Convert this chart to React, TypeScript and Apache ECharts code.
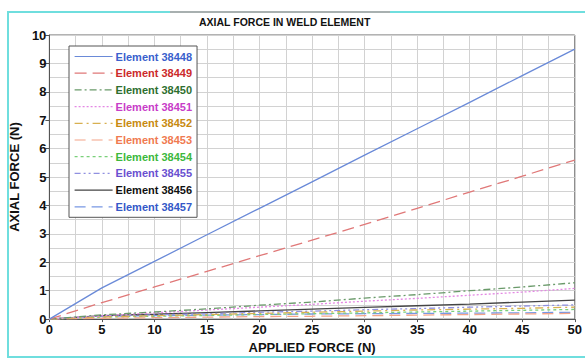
import React, { useEffect, useRef } from "react";
import * as echarts from "echarts";

const xValues = [0, 5, 10, 15, 20, 25, 30, 35, 40, 45, 50];
const seriesNames = [
  "Element 38448",
  "Element 38449",
  "Element 38450",
  "Element 38451",
  "Element 38452",
  "Element 38453",
  "Element 38454",
  "Element 38455",
  "Element 38456",
  "Element 38457",
];
const e38448 = [0, 1.1, 2.03, 2.97, 3.9, 4.83, 5.77, 6.7, 7.63, 8.57, 9.5];
const e38449 = [0, 0.58, 1.13, 1.68, 2.23, 2.78, 3.33, 3.9, 4.47, 5.03, 5.6];
const e38450 = [0, 0.15, 0.25, 0.36, 0.49, 0.6, 0.74, 0.86, 1.0, 1.13, 1.28];
const e38451 = [0, 0.12, 0.22, 0.32, 0.42, 0.52, 0.63, 0.73, 0.84, 0.95, 1.08];
const e38452 = [0, 0.08, 0.12, 0.16, 0.2, 0.24, 0.28, 0.32, 0.35, 0.38, 0.42];
const e38453 = [0, 0.03, 0.05, 0.07, 0.09, 0.1, 0.12, 0.14, 0.16, 0.18, 0.2];
const e38454 = [0, 0.07, 0.1, 0.13, 0.16, 0.19, 0.22, 0.25, 0.28, 0.31, 0.34];
const e38455 = [0, 0.1, 0.15, 0.19, 0.24, 0.28, 0.33, 0.37, 0.42, 0.46, 0.5];
const e38456 = [0, 0.12, 0.17, 0.23, 0.29, 0.35, 0.41, 0.47, 0.53, 0.6, 0.67];
const e38457 = [0, 0.1, 0.12, 0.14, 0.16, 0.18, 0.19, 0.2, 0.21, 0.22, 0.24];
const allValues = [e38448, e38449, e38450, e38451, e38452, e38453, e38454, e38455, e38456, e38457];

const lineColors = ["#6a8ad8", "#e07878", "#6a9a6a", "#e488e4", "#d8b050", "#f4a488", "#7ad07a", "#9090e0", "#444444", "#7898e4"];
const textColors = ["#3a5fcd", "#cc2a2a", "#2f6f2f", "#c83cc8", "#c88a10", "#f07a50", "#3cb83c", "#6a50d0", "#111111", "#3458c8"];
const dashes: any[] = [
  "solid",
  [12, 6],
  [7, 3, 2, 3],
  [2, 2],
  [8, 4, 2, 4],
  [11, 6],
  [3, 3],
  [6, 3, 2, 3, 2, 3],
  "solid",
  [11, 6],
];

export default function App() {
  const ref = useRef<HTMLDivElement>(null);
  useEffect(() => {
    if (!ref.current) return;
    const chart = echarts.init(ref.current, undefined, { renderer: "svg" });
    const font = "Arial, 'Liberation Sans', sans-serif";
    chart.setOption({
      animation: false,
      backgroundColor: "#ffffff",
      textStyle: { fontFamily: font },
      title: {
        text: "AXIAL FORCE IN WELD ELEMENT",
        left: 199,
        top: 16,
        padding: 0,
        textStyle: { fontSize: 10.5, fontWeight: "bold", color: "#111", fontFamily: font },
      },
      graphic: [
        {
          type: "rect",
          shape: { x: 8, y: 12, width: 590, height: 345 },
          style: { fill: "none", stroke: "#6fdede", lineWidth: 2 },
          silent: true,
          z: 100,
        },
        {
          type: "line",
          shape: { x1: 170, y1: 12, x2: 390, y2: 12 },
          style: { stroke: "#a8b0b0", lineWidth: 2 },
          silent: true,
          z: 101,
        },
      ],
      legend: {
        orient: "vertical",
        left: 69,
        top: 46,
        itemWidth: 38,
        itemHeight: 10,
        itemGap: 5.7,
        padding: [5, 5, 5, 5],
        borderColor: "#555",
        borderWidth: 1,
        backgroundColor: "#ffffff",
        itemStyle: { opacity: 0 },
        lineStyle: { width: 1.2 },
        textStyle: { fontSize: 11, fontWeight: "bold", fontFamily: font, padding: [0, 0, 0, -2] },
        data: seriesNames.map((n, i) => ({ name: n, textStyle: { color: textColors[i] } })),
      },
      grid: {
        left: 45,
        top: 35,
        right: 5,
        bottom: 33,
        show: true,
        borderColor: "#666",
        borderWidth: 1,
        backgroundColor: "#fff",
      },
      xAxis: {
        type: "value",
        min: 0,
        max: 50,
        interval: 5,
        name: "APPLIED FORCE (N)",
        nameLocation: "middle",
        nameGap: 18,
        nameTextStyle: { fontSize: 13, fontWeight: "bold", color: "#111", fontFamily: font },
        axisLine: { show: true, lineStyle: { color: "#555" } },
        axisTick: { show: true, length: 3, lineStyle: { color: "#555" } },
        axisLabel: { fontSize: 13, fontWeight: "bold", color: "#111", margin: 4, fontFamily: font },
        splitLine: { show: true, lineStyle: { color: "#d2d2d2", width: 1 } },
        minorTick: { show: false, splitNumber: 2 },
        minorSplitLine: { show: true, lineStyle: { color: "#d2d2d2", width: 1 } },
      },
      yAxis: {
        type: "value",
        min: 0,
        max: 10,
        interval: 1,
        name: "AXIAL FORCE (N)",
        nameLocation: "middle",
        nameGap: 24,
        nameTextStyle: { fontSize: 13, fontWeight: "bold", color: "#111", fontFamily: font },
        axisLine: { show: true, lineStyle: { color: "#555" } },
        axisTick: { show: true, length: 4, lineStyle: { color: "#555" } },
        axisLabel: { fontSize: 13, fontWeight: "bold", color: "#111", margin: 3, fontFamily: font },
        splitLine: { show: true, lineStyle: { color: "#d2d2d2", width: 1 } },
        minorTick: { show: false, splitNumber: 2 },
        minorSplitLine: { show: true, lineStyle: { color: "#d2d2d2", width: 1 } },
      },
      series: seriesNames.map((n, i) => ({
        name: n,
        type: "line",
        symbol: "none",
        showSymbol: false,
        data: xValues.map((x, j) => [x, allValues[i][j]]),
        lineStyle: { color: lineColors[i], width: 1.3, type: dashes[i] },
        itemStyle: { color: lineColors[i] },
        z: 10 - i,
      })),
    });
    return () => chart.dispose();
  }, []);
  return (
    <div style={{ position: "fixed", left: 0, top: 0, width: 585, height: 359, background: "#fff" }}>
      <div ref={ref} style={{ width: 585, height: 359 }} />
    </div>
  );
}
